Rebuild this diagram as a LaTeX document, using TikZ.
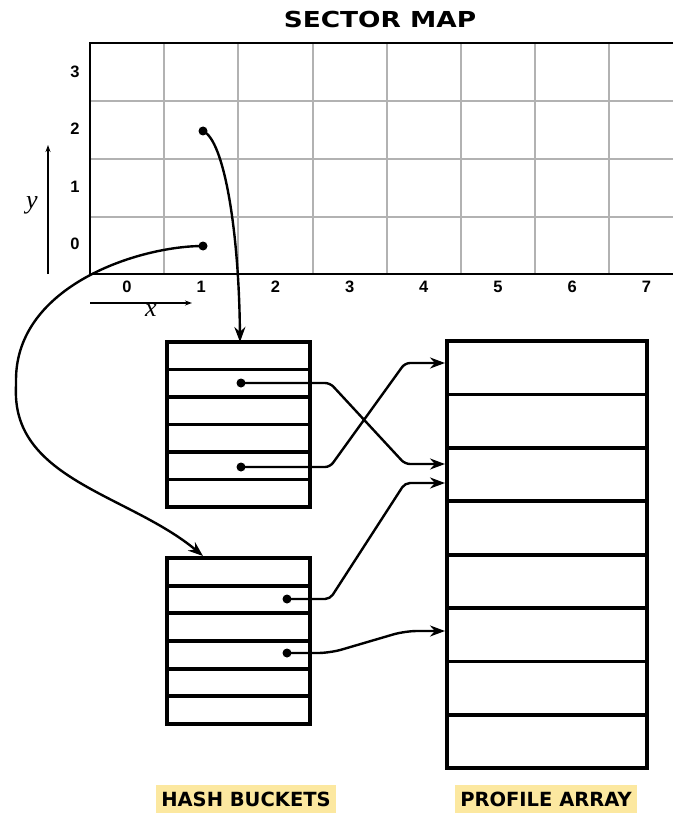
\documentclass[tikz,border=0pt]{standalone}
\usepackage{fontspec}
\setmainfont{Liberation Sans}
\newfontfamily\headfont{DejaVu Sans}[FakeStretch=1.2]
\newfontfamily\tagfont{DejaVu Sans}
\newfontfamily\varfont{Liberation Serif}
\usetikzlibrary{arrows.meta}
\definecolor{tagyellow}{HTML}{FCE8A0}

\begin{document}
\begin{tikzpicture}[
  x=1pt,y=-1pt,
  gridline/.style={gray!60,line width=2pt},
  frame/.style={draw,line width=3.8pt,inner sep=0pt,outer sep=0pt},
  link/.style={line width=2.4pt,rounded corners=5pt,-{Stealth[length=15pt,width=11pt]}},
  axis/.style={line width=1.4pt,-{Stealth[length=7pt,width=5pt]}},
  dot/.style={circle,fill,inner sep=0pt,minimum size=9pt},
  num/.style={font=\bfseries\fontsize{16.5}{16.5}\selectfont},
  var/.style={font=\varfont\itshape\fontsize{26}{26}\selectfont},
  tag/.style={fill=tagyellow,font=\tagfont\bfseries\fontsize{19.5}{19.5}\selectfont,
    inner xsep=5pt,inner ysep=7pt}
]
  \useasboundingbox (0,0) rectangle (673,813);

  \node[font=\headfont\bfseries\fontsize{22}{22}\selectfont] (map) at (380,19) {SECTOR MAP};

  \foreach \y in {101,159,217}
    \draw[gridline] (90,\y) -- (673,\y);
  \foreach \i in {1,...,7}
    \draw[gridline] ({90+74.2*\i},43) -- ({90+74.2*\i},274);
  \draw[line width=2.4pt] (673,43) -- (90,43) -- (90,274) -- (673,274);

  \foreach \i in {0,...,7}
    \node[num] (cx\i) at ({127+74.2*\i},287) {\i};
  \foreach \j in {0,...,3}
    \node[num] (ry\j) at (75,{244-57.5*\j}) {\j};

  \coordinate (yfoot) at (48,274);
  \coordinate (yhead) at (48,145);
  \coordinate (xfoot) at (90,303);
  \coordinate (xhead) at (192,303);
  \draw[axis] (yfoot) -- (yhead);
  \draw[axis] (xfoot) -- (xhead);
  \node[var] (ylab) at (32,205) {y};
  \node[var] (xlab) at (151,311) {x};

  \node[dot] (s12) at (203,131) {};
  \node[dot] (s10) at (203,246) {};

  \node[frame,minimum width=143pt,minimum height=165pt] (hb1) at (238.5,424.5) {};
  \node[frame,minimum width=143pt,minimum height=166pt] (hb2) at (238.5,641) {};
  \node[frame,minimum width=200pt,minimum height=427pt] (pa) at (547,554.5) {};
  \foreach \k in {1,...,5} {
    \draw[line width=3.8pt] (167,{342+27.5*\k}) -- (310,{342+27.5*\k});
    \draw[line width=3.8pt] (167,{558+27.67*\k}) -- (310,{558+27.67*\k});
  }
  \foreach \k in {1,...,7}
    \draw[line width=3.8pt] (447,{341+53.4*\k}) -- (647,{341+53.4*\k});

  \node[dot] (e12) at (241,383) {};
  \node[dot] (e15) at (241,467) {};
  \node[dot] (f22) at (287,599) {};
  \node[dot] (f24) at (287,653) {};

  \coordinate (in1) at (445,363);
  \coordinate (in3a) at (445,464);
  \coordinate (in3b) at (445,483);
  \coordinate (in6) at (445,631);

  \draw[link] (s12.center) .. controls (224,140) and (239,230) .. ([xshift=1.5pt]hb1.north);
  \draw[link] (s10.center) .. controls (140,246) and (16,285) .. (16,385)
    .. controls (14,480) and (130,495) .. ([xshift=-35.5pt,yshift=2pt]hb2.north);

  \draw[link] (e12.center) -- (330,383) -- ([xshift=-40pt]in3a) -- (in3a);
  \draw[link] (e15.center) -- (330,467) -- ([xshift=-40pt]in1) -- (in1);
  \draw[link] (f22.center) -- (330,599) -- ([xshift=-40pt]in3b) -- (in3b);
  \draw[link,rounded corners=12pt] (f24.center) -- (330,653) -- ([xshift=-40pt]in6) -- (in6);

  \node[tag] (hbl) at (246,799) {HASH BUCKETS};
  \node[tag] (pal) at (546,799) {PROFILE ARRAY};
\end{tikzpicture}
\end{document}
